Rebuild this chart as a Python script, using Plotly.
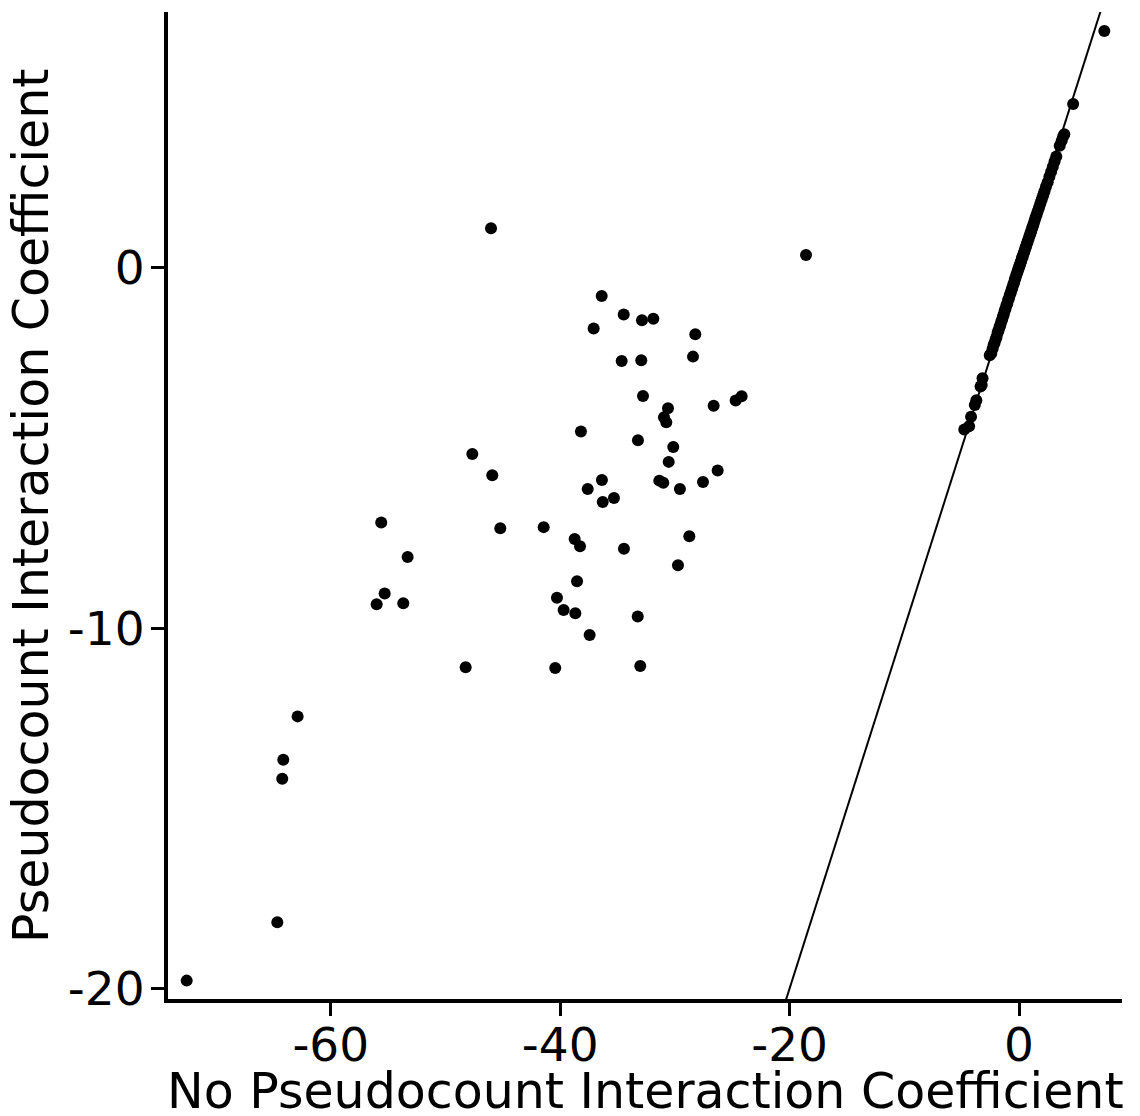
import plotly.graph_objects as go

# Off-diagonal points (No pseudocount coef, Pseudocount coef)
scatter_x = [-46.03, -18.57, -36.38, -34.46, -32.87, -31.88, -37.08, -28.22, -34.64, -32.93,
             -28.42, -32.78, -26.62, -24.70, -24.18, -30.60, -30.95, -30.75, -38.19, -33.22,
             -30.14, -30.54, -47.66, -45.92, -26.27, -31.36, -31.01, -29.56, -27.55, -36.36,
             -37.60, -36.29, -35.31, -55.60, -45.22, -41.44, -28.74, -38.74, -38.27, -34.44,
             -29.73, -53.30, -38.53, -55.30, -56.00, -53.68, -40.28, -39.70, -38.68, -33.24,
             -37.43, -48.24, -40.43, -33.02, -62.89, -64.14, -64.23, -64.66, -72.56]
scatter_y = [1.09, 0.35, -0.79, -1.30, -1.46, -1.42, -1.69, -1.85, -2.59, -2.57,
             -2.47, -3.56, -3.83, -3.69, -3.57, -3.90, -4.15, -4.29, -4.55, -4.79,
             -4.98, -5.39, -5.17, -5.76, -5.63, -5.91, -5.97, -6.14, -5.95, -5.89,
             -6.14, -6.50, -6.39, -7.07, -7.23, -7.20, -7.45, -7.53, -7.73, -7.80,
             -8.26, -8.03, -8.70, -9.04, -9.34, -9.31, -9.16, -9.50, -9.59, -9.68,
             -10.19, -11.09, -11.11, -11.05, -12.45, -13.65, -14.18, -18.16, -19.78]

# Points lying on the identity line
cluster_x = [-4.77, -4.35, -4.18, -3.85, -3.72, -3.35, -3.25, -3.18,
             -2.55, -2.42, -2.30, -2.21, -2.12, -2.02, -1.95, -1.86, -1.78, -1.70,
             -1.63, -1.55, -1.47, -1.40, -1.33, -1.25, -1.18, -1.10, -1.02, -0.95,
             -0.88, -0.80, -0.72, -0.65, -0.58, -0.50, -0.43, -0.36, -0.30, -0.23,
             -0.16, -0.10, -0.04, 0.02, 0.08, 0.14, 0.20, 0.26, 0.33, 0.40,
             0.47, 0.54, 0.61, 0.69, 0.76, 0.84, 0.92, 1.00, 1.08, 1.17,
             1.26, 1.35, 1.44, 1.54, 1.64, 1.75, 1.86, 1.98, 2.10, 2.22,
             2.35, 2.50, 2.65, 2.80, 2.95, 3.10, 3.25, 3.55, 3.72, 3.85,
             3.95, 4.72, 7.44]
cluster_y = [-4.49, -4.40, -4.14, -3.81, -3.68, -3.30, -3.26, -3.07,
             -2.43, -2.38, -2.25, -2.15, -2.08, -1.98, -1.92, -1.80, -1.74, -1.65,
             -1.60, -1.50, -1.45, -1.36, -1.30, -1.20, -1.15, -1.05, -1.00, -0.90,
             -0.86, -0.76, -0.70, -0.62, -0.56, -0.47, -0.42, -0.33, -0.28, -0.20,
             -0.15, -0.08, -0.03, 0.04, 0.07, 0.15, 0.18, 0.27, 0.30, 0.40,
             0.44, 0.53, 0.58, 0.66, 0.73, 0.80, 0.88, 0.95, 1.03, 1.12,
             1.20, 1.29, 1.38, 1.47, 1.57, 1.67, 1.78, 1.89, 2.00, 2.12,
             2.24, 2.37, 2.52, 2.66, 2.80, 2.94, 3.08, 3.38, 3.52, 3.64,
             3.70, 4.54, 6.56]

x_range = [-74.19, 8.98]
y_range = [-20.29, 7.09]
x_ticks = [-60, -40, -20, 0]
y_ticks = [-20, -10, 0]
identity = [-21.0, 8.0]
x_title = "No Pseudocount Interaction Coefficient"
y_title = "Pseudocount Interaction Coefficient"

FONT = "DejaVu Sans"

fig = go.Figure()
fig.add_trace(go.Scatter(x=identity, y=identity, mode="lines",
                         line=dict(color="black", width=2), hoverinfo="skip"))
fig.add_trace(go.Scatter(x=scatter_x + cluster_x, y=scatter_y + cluster_y, mode="markers",
                         marker=dict(color="black", size=12, line=dict(width=0))))

axis_common = dict(showgrid=False, zeroline=False, showline=True, linecolor="black",
                   linewidth=4, ticks="outside", ticklen=13, tickwidth=3, tickcolor="black",
                   tickfont=dict(family=FONT, size=47, color="black"),
                   automargin=False)

fig.update_layout(
    width=1140, height=1116,
    margin=dict(l=168, r=18, t=12, b=117),
    plot_bgcolor="white", paper_bgcolor="white",
    showlegend=False,
    xaxis=dict(range=x_range, tickvals=x_ticks, ticktext=[str(v) for v in x_ticks],
               ticklabelstandoff=-11, **axis_common),
    yaxis=dict(range=y_range, tickvals=y_ticks, ticktext=[str(v) for v in y_ticks],
               ticklabelstandoff=-3, **axis_common),
    annotations=[
        dict(text=x_title, xref="paper", yref="paper", x=0.5, y=-0.094,
             xanchor="center", yanchor="middle", showarrow=False,
             font=dict(family=FONT, size=49, color="black")),
        dict(text=y_title, xref="paper", yref="paper", x=-0.1426, y=0.4995,
             xanchor="center", yanchor="middle", textangle=-90, showarrow=False,
             font=dict(family=FONT, size=49, color="black")),
    ],
)

fig.write_html("out.html")
